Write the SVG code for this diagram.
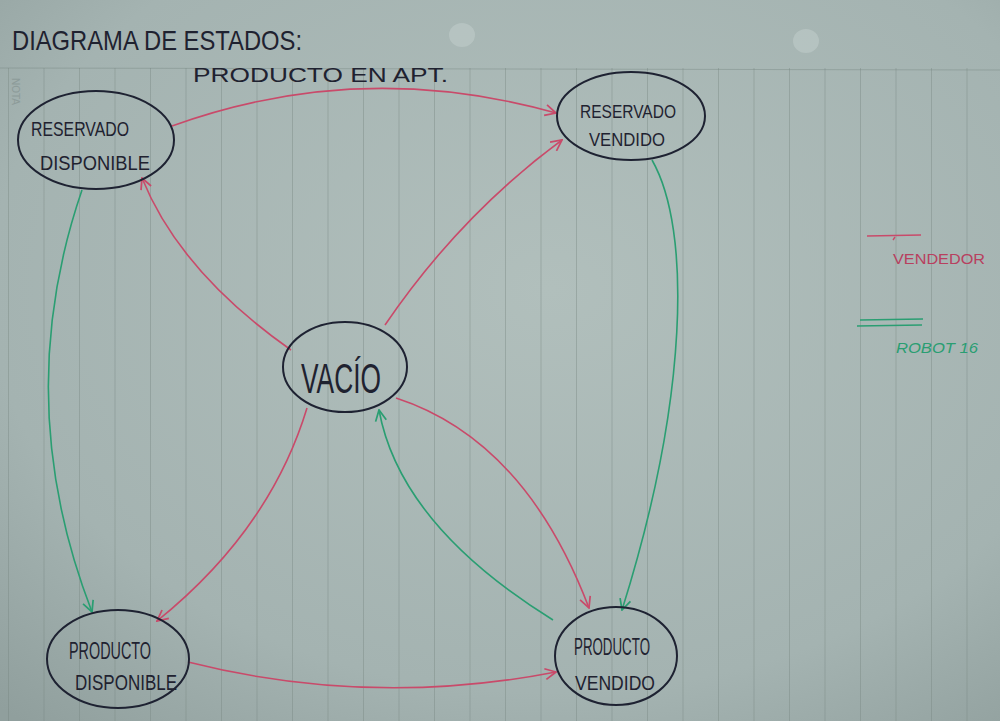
<svg xmlns="http://www.w3.org/2000/svg" width="1000" height="721" viewBox="0 0 1000 721">
  <defs>
    <radialGradient id="paper" cx="0.55" cy="0.4" r="0.8">
      <stop offset="0" stop-color="#b1bfbc"/>
      <stop offset="0.7" stop-color="#a4b3b1"/>
      <stop offset="1" stop-color="#909f9d"/>
    </radialGradient>
    <marker id="ar" viewBox="0 0 12 12" refX="11" refY="6" markerWidth="13" markerHeight="13" markerUnits="userSpaceOnUse" orient="auto">
      <path d="M1,1 L11,6 L1,11" fill="none" stroke="#c94a6a" stroke-width="1.6"/>
    </marker>
    <marker id="ag" viewBox="0 0 12 12" refX="11" refY="6" markerWidth="13" markerHeight="13" markerUnits="userSpaceOnUse" orient="auto">
      <path d="M1,1 L11,6 L1,11" fill="none" stroke="#2a9e72" stroke-width="1.6"/>
    </marker>
    <pattern id="rules" x="8" y="0" width="35.5" height="721" patternUnits="userSpaceOnUse">
      <line x1="0.5" y1="0" x2="0.5" y2="721" stroke="#74847f" stroke-width="1" opacity="0.4"/>
    </pattern>
  </defs>
  <style>
    .node ellipse { fill: none; stroke: #1e2232; stroke-width: 2; }
    .node text { font-family: "Liberation Sans", sans-serif; fill: #1f2230; text-anchor: middle; }
    .red { fill: none; stroke: #c94a6a; stroke-width: 1.6; marker-end: url(#ar); }
    .green { fill: none; stroke: #2a9e72; stroke-width: 1.6; marker-end: url(#ag); }
    .title { font-family: "Liberation Sans", sans-serif; fill: #1f2230; }
  </style>

  <!-- paper -->
  <rect width="1000" height="721" fill="url(#paper)"/>
  <rect x="0" y="68" width="1000" height="653" fill="url(#rules)"/>
  <line x1="0" y1="68" x2="1000" y2="70" stroke="#74847f" stroke-width="1" opacity="0.4"/>
  <ellipse cx="462" cy="35" rx="13" ry="12" fill="#c4d0cd" opacity="0.5"/>
  <ellipse cx="806" cy="41" rx="13" ry="12" fill="#c4d0cd" opacity="0.5"/>
  <text x="12" y="78" transform="rotate(90 12 78)" font-family="Liberation Sans, sans-serif" font-size="10" fill="#7f8e8c" opacity="0.6">NOTA</text>

  <!-- title -->
  <text class="title" x="12" y="50" font-size="28" textLength="290" lengthAdjust="spacingAndGlyphs">DIAGRAMA DE ESTADOS:</text>
  <text class="title" x="193" y="82" font-size="21" textLength="255" lengthAdjust="spacingAndGlyphs">PRODUCTO EN APT.</text>

  <!-- connectors -->
  <g id="connectors">
    <path class="red" d="M172,126 Q360,58 556,113"/>
    <path class="red" d="M291,350 Q180,272 142,178"/>
    <path class="red" d="M385,325 Q460,215 562,140"/>
    <path class="red" d="M307,408 Q270,530 157,621"/>
    <path class="red" d="M396,398 Q525,440 589,608"/>
    <path class="red" d="M188,662 Q370,708 556,672"/>
    <path class="green" d="M553,620 Q400,525 379,410"/>
    <path class="green" d="M82,190 Q10,400 92,612"/>
    <path class="green" d="M652,160 C692,230 688,400 622,610"/>
  </g>

  <!-- nodes -->
  <g id="reservado-disponible" class="node">
    <ellipse cx="96" cy="140" rx="78" ry="49"/>
    <text x="80" y="136" font-size="21" textLength="98" lengthAdjust="spacingAndGlyphs">RESERVADO</text>
    <text x="95" y="170" font-size="20" textLength="110" lengthAdjust="spacingAndGlyphs">DISPONIBLE</text>
  </g>
  <g id="reservado-vendido" class="node">
    <ellipse cx="631" cy="116" rx="74" ry="44"/>
    <text x="628" y="118" font-size="19" textLength="96" lengthAdjust="spacingAndGlyphs">RESERVADO</text>
    <text x="627" y="146" font-size="19" textLength="76" lengthAdjust="spacingAndGlyphs">VENDIDO</text>
  </g>
  <g id="vacio" class="node">
    <ellipse cx="345" cy="367" rx="62" ry="45"/>
    <text x="341" y="393" font-size="42" textLength="80" lengthAdjust="spacingAndGlyphs">VACÍO</text>
  </g>
  <g id="producto-disponible" class="node">
    <ellipse cx="118" cy="659" rx="71" ry="49"/>
    <text x="110" y="659" font-size="24" textLength="82" lengthAdjust="spacingAndGlyphs">PRODUCTO</text>
    <text x="126" y="690" font-size="22" textLength="102" lengthAdjust="spacingAndGlyphs">DISPONIBLE</text>
  </g>
  <g id="producto-vendido" class="node">
    <ellipse cx="616" cy="656" rx="61" ry="49"/>
    <text x="612" y="655" font-size="23" textLength="76" lengthAdjust="spacingAndGlyphs">PRODUCTO</text>
    <text x="615" y="690" font-size="21" textLength="80" lengthAdjust="spacingAndGlyphs">VENDIDO</text>
  </g>

  <!-- legend -->
  <g id="legend">
    <line x1="867" y1="236" x2="921" y2="235" stroke="#c94a6a" stroke-width="1.6"/>
    <line x1="895" y1="237" x2="893" y2="240" stroke="#c94a6a" stroke-width="1.4"/>
    <text x="893" y="264" font-family="Liberation Sans, sans-serif" font-size="15" fill="#b8405f" textLength="92" lengthAdjust="spacingAndGlyphs">VENDEDOR</text>
    <line x1="860" y1="320" x2="923" y2="319" stroke="#2a9e72" stroke-width="1.6"/>
    <line x1="857" y1="326" x2="922" y2="325" stroke="#2a9e72" stroke-width="1.6"/>
    <text x="896" y="353" font-family="Liberation Sans, sans-serif" font-size="15" fill="#2a9e72" font-style="italic" textLength="82" lengthAdjust="spacingAndGlyphs">ROBOT 16</text>
  </g>
</svg>
